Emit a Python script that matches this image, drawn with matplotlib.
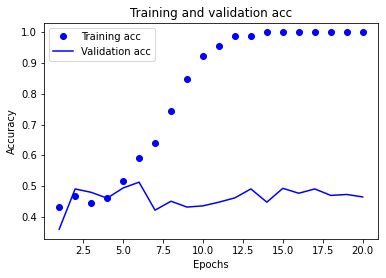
import matplotlib
matplotlib.use('Agg')
import matplotlib.pyplot as plt

# Data
epochs = list(range(1, 21))
acc = [0.431, 0.467, 0.445, 0.461, 0.516, 0.590, 0.640, 0.743, 0.850, 0.922,
       0.957, 0.987, 0.987, 1.0, 1.0, 1.0, 1.0, 1.0, 1.0, 1.0]
val_acc = [0.360, 0.491, 0.480, 0.461, 0.494, 0.513, 0.422, 0.451, 0.432, 0.436,
           0.448, 0.462, 0.491, 0.448, 0.493, 0.477, 0.491, 0.470, 0.473, 0.465]

fig = plt.figure(figsize=(386 / 72, 278 / 72), dpi=72)
ax = fig.add_axes([0.114, 0.140, 0.865, 0.779])

ax.plot(epochs, acc, 'bo', label='Training acc')
ax.plot(epochs, val_acc, 'b', label='Validation acc')
ax.set_title('Training and validation acc')
ax.set_xlabel('Epochs')
ax.set_ylabel('Accuracy')
ax.legend()

fig.savefig('out.png', dpi=72)
